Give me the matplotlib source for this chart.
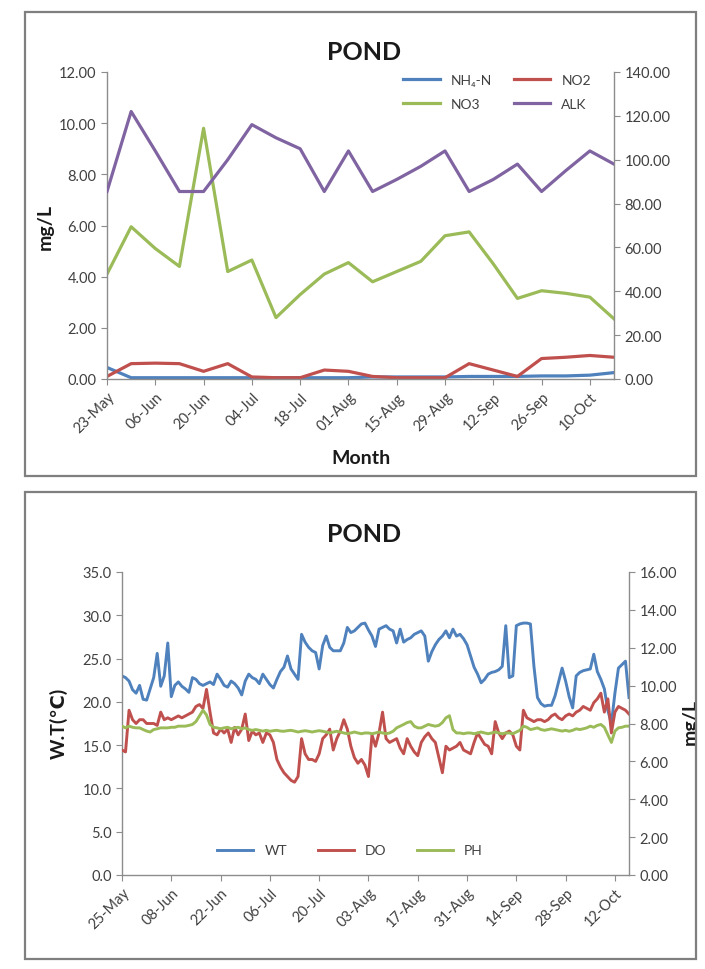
import matplotlib
matplotlib.use("Agg")
import matplotlib.pyplot as plt
import matplotlib.dates as mdates
import matplotlib.ticker as ticker
from matplotlib.patches import Rectangle
import pandas as pd

plt.rcParams["font.family"] = ["Lato", "DejaVu Sans"]

# ---- top chart: weekly nitrogen and alkalinity ----
week_start = "2013-05-23"
nh4 = [0.45, 0.05, 0.05, 0.05, 0.05, 0.05, 0.05, 0.05, 0.05, 0.05, 0.05,
       0.08, 0.08, 0.08, 0.08, 0.10, 0.10, 0.10, 0.12, 0.12, 0.15, 0.25]
no2 = [0.10, 0.60, 0.62, 0.60, 0.30, 0.60, 0.08, 0.05, 0.05, 0.35, 0.30,
       0.10, 0.05, 0.05, 0.05, 0.60, 0.35, 0.10, 0.80, 0.85, 0.92, 0.85]
no3 = [4.10, 5.95, 5.10, 4.40, 9.80, 4.20, 4.65, 2.40, 3.30, 4.10, 4.55,
       3.80, 4.20, 4.60, 5.60, 5.75, 4.50, 3.15, 3.45, 3.35, 3.20, 2.35]
alk = [85.5, 122, 104, 85.5, 85.5, 100, 116, 110, 105, 85.5, 104,
       85.5, 91, 97, 104, 85.5, 91, 98, 85.5, 95, 104, 98]

# ---- bottom chart: daily water temperature, DO, pH ----
day_start = "2013-05-25"
wt = [23.0, 22.8, 22.4, 21.4, 21.0, 21.9, 20.3, 20.2, 21.5, 22.8,
      25.6, 21.8, 23.0, 26.8, 20.6, 21.9, 22.3, 21.8, 21.5, 21.1,
      22.8, 22.6, 22.1, 21.9, 22.1, 22.3, 22.0, 23.2, 22.6, 21.9,
      21.7, 22.4, 22.1, 21.6, 20.8, 22.4, 23.2, 22.8, 22.6, 22.1,
      23.2, 22.6, 22.0, 21.6, 22.6, 23.5, 24.0, 25.3, 23.8, 23.2,
      22.6, 27.8, 26.9, 26.3, 25.9, 25.7, 23.8, 26.5, 27.6, 26.3,
      25.9, 25.9, 25.9, 26.8, 28.6, 28.0, 28.2, 28.6, 29.0, 29.1,
      28.3, 27.6, 26.4, 28.4, 28.6, 28.8, 28.4, 28.2, 26.8, 28.4,
      26.9, 27.2, 27.4, 27.8, 28.0, 28.2, 27.6, 24.7, 25.8, 26.6,
      27.2, 27.6, 28.2, 27.4, 28.4, 27.6, 27.8, 27.3, 26.6, 25.3,
      24.0, 23.2, 22.2, 22.6, 23.2, 23.4, 23.5, 23.7, 24.1, 28.8,
      22.8, 23.0, 28.8, 29.0, 29.1, 29.1, 29.0, 24.1, 20.5, 19.8,
      19.5, 19.6, 19.6, 20.7, 22.3, 23.9, 22.4, 20.6, 19.3, 23.0,
      23.4, 23.6, 23.7, 23.8, 25.5, 23.5, 22.6, 21.5, 19.0, 17.5,
      21.0, 23.9, 24.3, 24.7, 20.5]
do = [6.6, 6.5, 8.7, 8.2, 8.0, 8.2, 8.2, 8.0, 8.0, 8.0,
      7.9, 8.6, 8.2, 8.3, 8.2, 8.3, 8.4, 8.3, 8.4, 8.5,
      8.6, 8.9, 9.0, 8.8, 9.8, 8.6, 7.5, 7.4, 7.7, 7.5,
      7.7, 7.0, 7.8, 7.4, 7.7, 8.5, 7.1, 7.6, 7.4, 7.5,
      7.0, 7.5, 7.4, 7.0, 6.1, 5.7, 5.4, 5.2, 5.0, 4.9,
      5.2, 7.2, 6.4, 6.1, 6.1, 6.0, 6.4, 7.2, 7.4, 7.7,
      6.6, 7.2, 7.6, 8.2, 7.7, 6.8, 6.2, 5.9, 6.1, 5.8,
      5.2, 7.4, 6.8, 7.5, 8.6, 7.2, 7.0, 7.1, 7.2, 6.7,
      6.4, 7.2, 6.8, 6.5, 6.3, 7.0, 7.3, 7.5, 7.2, 7.0,
      6.2, 5.4, 6.8, 6.6, 6.7, 6.8, 7.0, 6.6, 6.5, 6.4,
      7.0, 7.5, 7.2, 6.9, 6.8, 6.4, 8.1, 7.5, 7.2, 7.5,
      7.6, 7.4, 6.8, 6.6, 8.7, 8.3, 8.2, 8.1, 8.2, 8.2,
      8.1, 8.2, 8.4, 8.5, 8.3, 8.2, 8.4, 8.5, 8.4, 8.6,
      8.7, 8.9, 8.8, 8.7, 9.1, 9.3, 9.6, 8.6, 9.3, 7.5,
      8.6, 8.9, 8.8, 8.7, 8.5]
ph = [7.86, 7.77, 7.86, 7.80, 7.77, 7.77, 7.68, 7.60, 7.55, 7.68,
      7.72, 7.77, 7.77, 7.77, 7.80, 7.80, 7.86, 7.86, 7.86, 7.90,
      7.95, 8.10, 8.40, 8.70, 8.45, 7.95, 7.80, 7.77, 7.72, 7.77,
      7.80, 7.72, 7.77, 7.80, 7.72, 7.77, 7.68, 7.64, 7.68, 7.64,
      7.60, 7.64, 7.59, 7.62, 7.64, 7.60, 7.59, 7.62, 7.64, 7.60,
      7.55, 7.59, 7.62, 7.59, 7.55, 7.59, 7.62, 7.59, 7.55, 7.50,
      7.55, 7.59, 7.55, 7.50, 7.46, 7.50, 7.55, 7.50, 7.46, 7.50,
      7.50, 7.46, 7.50, 7.55, 7.50, 7.46, 7.50, 7.59, 7.77, 7.86,
      7.95, 8.05, 8.10, 7.86, 7.77, 7.77, 7.86, 7.95, 7.90, 7.86,
      7.90, 8.05, 8.30, 8.41, 7.68, 7.50, 7.50, 7.46, 7.50, 7.50,
      7.46, 7.50, 7.55, 7.50, 7.46, 7.50, 7.55, 7.50, 7.46, 7.50,
      7.50, 7.46, 7.55, 7.64, 7.86, 7.80, 7.68, 7.72, 7.77, 7.68,
      7.64, 7.68, 7.72, 7.68, 7.64, 7.60, 7.64, 7.59, 7.64, 7.72,
      7.68, 7.72, 7.77, 7.86, 7.80, 7.90, 7.95, 7.80, 7.40, 7.00,
      7.60, 7.77, 7.80, 7.86, 7.86]

BLUE, RED, GREEN, PURPLE = "#4F81BD", "#C0504D", "#9BBB59", "#8064A2"
AXC = "#8c8c8c"
TXT = "#404040"

W, H = 705, 970
fig = plt.figure(figsize=(W / 100, H / 100), dpi=100)


def fx(px):
    return px / W


def fy(py):
    return 1 - py / H


def panel(x0, y0, x1, y1):
    fig.patches.append(Rectangle((fx(x0), fy(y1)), (x1 - x0) / W, (y1 - y0) / H,
                                 transform=fig.transFigure, fill=False,
                                 edgecolor="#7f7f7f", linewidth=1.6, zorder=10))


def style(ax, ax2):
    for a in (ax, ax2):
        a.spines["top"].set_visible(False)
        for s in ("left", "right", "bottom"):
            a.spines[s].set_color(AXC)
            a.spines[s].set_linewidth(1.0)
        a.tick_params(direction="out", length=4, color=AXC, labelsize=10.5,
                      labelcolor=TXT)
    ax.spines["right"].set_visible(False)
    ax2.spines["left"].set_visible(False)
    ax2.spines["bottom"].set_visible(False)
    ax.patch.set_visible(False)


# ---------------- top chart ----------------
panel(25, 13, 696, 477)
wd = pd.date_range(week_start, periods=len(alk), freq="7D")
ax = fig.add_axes([fx(107), fy(380), (614 - 107) / W, (380 - 73) / H])
ax2 = ax.twinx()
l1, = ax.plot(wd, nh4, color=BLUE, lw=2.3, label="NH\u2084-N")
l2, = ax.plot(wd, no2, color=RED, lw=2.3, label="NO2")
l3, = ax.plot(wd, no3, color=GREEN, lw=2.3, label="NO3")
l4, = ax2.plot(wd, alk, color=PURPLE, lw=2.3, label="ALK")
ax.set_xlim(wd[0], wd[-1])
ax.set_ylim(0, 12)
ax2.set_ylim(0, 140)
ax.yaxis.set_major_locator(ticker.MultipleLocator(2))
ax2.yaxis.set_major_locator(ticker.MultipleLocator(20))
ax.yaxis.set_major_formatter(ticker.FormatStrFormatter("%.2f"))
ax2.yaxis.set_major_formatter(ticker.FormatStrFormatter("%.2f"))
ax.set_xticks(pd.date_range(week_start, wd[-1], freq="14D"))
ax.xaxis.set_major_formatter(mdates.DateFormatter("%d-%b"))
style(ax, ax2)
for lab in ax.get_xticklabels():
    lab.set_rotation(45)
    lab.set_ha("right")
    lab.set_rotation_mode("anchor")
# legend fills column-wise, so order gives rows NH4-N/NO2 and NO3/ALK
ax2.legend(handles=[l1, l3, l2, l4], ncol=2, frameon=False, fontsize=10,
           loc="upper left", bbox_to_anchor=(0.56, 1.035), handlelength=2.6,
           columnspacing=1.6, labelspacing=0.9, labelcolor=TXT)
fig.text(fx(364), fy(53), "POND", ha="center", va="center", fontsize=18,
         fontweight="bold", color="#1a1a1a")
fig.text(fx(45), fy(227), "mg/L", ha="center", va="center", rotation=90,
         fontsize=14, fontweight="bold", color="#1a1a1a")
fig.text(fx(361), fy(459), "Month", ha="center", va="center", fontsize=14,
         fontweight="bold", color="#1a1a1a")

# ---------------- bottom chart ----------------
panel(25, 493, 696, 960)
dd = pd.date_range(day_start, periods=len(wt), freq="D")
bx = fig.add_axes([fx(122), fy(876), (629 - 122) / W, (876 - 573) / H])
bx2 = bx.twinx()
m1, = bx.plot(dd, wt, color=BLUE, lw=2.1, label="WT")
m2, = bx2.plot(dd, do, color=RED, lw=2.1, label="DO")
m3, = bx2.plot(dd, ph, color=GREEN, lw=2.1, label="PH")
bx.set_xlim(dd[0], dd[-1])
bx.set_ylim(0, 35)
bx2.set_ylim(0, 16)
bx.yaxis.set_major_locator(ticker.MultipleLocator(5))
bx2.yaxis.set_major_locator(ticker.MultipleLocator(2))
bx.yaxis.set_major_formatter(ticker.FormatStrFormatter("%.1f"))
bx2.yaxis.set_major_formatter(ticker.FormatStrFormatter("%.2f"))
bx.set_xticks(pd.date_range(day_start, dd[-1], freq="14D"))
bx.xaxis.set_major_formatter(mdates.DateFormatter("%d-%b"))
style(bx, bx2)
for lab in bx.get_xticklabels():
    lab.set_rotation(45)
    lab.set_ha("right")
    lab.set_rotation_mode("anchor")
bx2.legend(handles=[m1, m2, m3], ncol=3, frameon=False, fontsize=10,
           loc="lower center", bbox_to_anchor=(0.45, 0.02), handlelength=2.6,
           columnspacing=2.2, labelcolor=TXT)
fig.text(fx(364), fy(535), "POND", ha="center", va="center", fontsize=18,
         fontweight="bold", color="#1a1a1a")
fig.text(fx(59), fy(723), "W.T(\u2103)", ha="center", va="center", rotation=90,
         fontsize=14, fontweight="bold", color="#1a1a1a")
fig.text(fx(690), fy(722), "mg/L", ha="center", va="center", rotation=90,
         fontsize=14, fontweight="bold", color="#1a1a1a")
# the right-hand axis title is cut off by the chart border in the source
fig.patches.append(Rectangle((fx(696.5), 0), 1 - fx(696.5), 1,
                             transform=fig.transFigure, facecolor="white",
                             edgecolor="none", zorder=9))

fig.savefig("out.png", dpi=100)
